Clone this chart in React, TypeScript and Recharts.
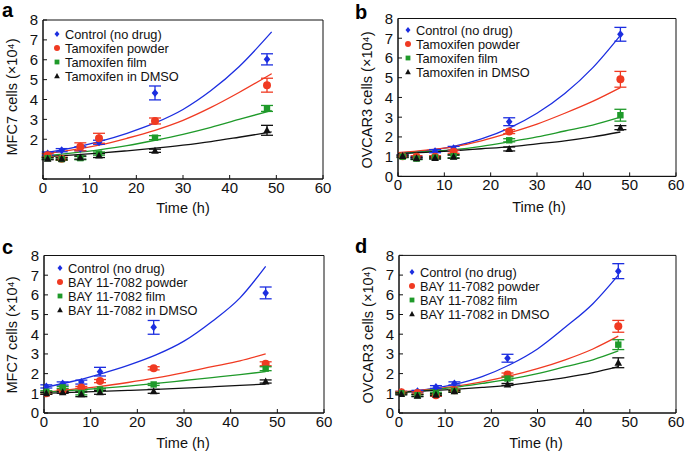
import React from 'react'
import { ComposedChart, Line, Scatter, ErrorBar, XAxis, YAxis, ReferenceArea } from 'recharts'

// order in every panel: control, powder, film, DMSO
const COLORS = ['#1c2ee0', '#f03a22', '#1f9a2a', '#111111']
const FONT = '"Liberation Sans", Arial, Helvetica, sans-serif'

const xTicks = [0, 10, 20, 30, 40, 50, 60]
const yTicks = [0, 1, 2, 3, 4, 5, 6, 7, 8]

const namesTam = ['Control (no drug)', 'Tamoxifen powder', 'Tamoxifen film', 'Tamoxifen in DMSO']
const namesBay = ['Control (no drug)', 'BAY 11-7082 powder', 'BAY 11-7082 film', 'BAY 11-7082 in DMSO']

// panel a - MFC7, tamoxifen
const aTimes = [1, 4, 8, 12, 24, 48]
const aMeans = [
  [1.28, 1.45, 1.52, 1.85, 4.33, 6.02],
  [1.2, 1.02, 1.62, 2.05, 2.92, 4.72],
  [1.05, 1.0, 1.05, 1.28, 2.08, 3.55],
  [1.02, 1.02, 1.08, 1.18, 1.42, 2.45],
]
const aErrs = [
  [0.08, 0.08, 0.1, 0.1, 0.35, 0.28],
  [0.08, 0.08, 0.2, 0.25, 0.15, 0.35],
  [0.05, 0.05, 0.08, 0.08, 0.1, 0.15],
  [0.05, 0.05, 0.08, 0.1, 0.08, 0.25],
]
const aFitTimes = [0, 6, 12, 18, 24, 30, 36, 42, 49]
const aFits = [
  [1.3, 1.55, 1.88, 2.3, 2.82, 3.5, 4.45, 5.65, 7.4],
  [1.25, 1.45, 1.7, 2.05, 2.45, 2.95, 3.6, 4.35, 5.3],
  [1.15, 1.3, 1.47, 1.68, 1.95, 2.25, 2.6, 3.0, 3.45],
  [1.12, 1.2, 1.3, 1.42, 1.55, 1.7, 1.88, 2.1, 2.37],
]

// panel b - OVCAR3, tamoxifen
const bTimes = [1, 4, 8, 12, 24, 48]
const bMeans = [
  [1.05, 0.95, 1.28, 1.42, 2.77, 7.2],
  [1.02, 1.0, 1.0, 1.25, 2.27, 4.92],
  [1.0, 0.9, 0.95, 1.02, 1.83, 3.1],
  [1.03, 0.92, 0.93, 1.0, 1.39, 2.47],
]
const bErrs = [
  [0.05, 0.05, 0.08, 0.1, 0.2, 0.35],
  [0.05, 0.05, 0.05, 0.08, 0.1, 0.4],
  [0.05, 0.05, 0.05, 0.08, 0.08, 0.3],
  [0.05, 0.05, 0.05, 0.08, 0.1, 0.1],
]
const bFitTimes = [0, 6, 12, 18, 24, 30, 36, 42, 48]
const bFits = [
  [1.15, 1.3, 1.52, 1.9, 2.45, 3.2, 4.2, 5.5, 7.15],
  [1.2, 1.33, 1.5, 1.8, 2.2, 2.65, 3.2, 3.8, 4.5],
  [1.15, 1.25, 1.35, 1.52, 1.75, 2.0, 2.3, 2.6, 3.0],
  [1.15, 1.22, 1.3, 1.4, 1.5, 1.65, 1.8, 2.0, 2.25],
]

// panel c - MFC7, BAY 11-7082
const cTimes = [0.5, 4, 8, 12, 23.5, 47.5]
const cMeans = [
  [1.35, 1.5, 1.57, 2.1, 4.35, 6.1],
  [1.0, 1.15, 1.3, 1.62, 2.27, 2.5],
  [1.08, 1.3, 1.02, 1.2, 1.45, 2.25],
  [1.0, 1.05, 0.95, 1.05, 1.1, 1.6],
]
const cErrs = [
  [0.08, 0.08, 0.1, 0.22, 0.35, 0.3],
  [0.05, 0.05, 0.05, 0.08, 0.08, 0.1],
  [0.05, 0.05, 0.1, 0.05, 0.05, 0.1],
  [0.05, 0.05, 0.12, 0.1, 0.1, 0.08],
]
const cFitTimes = [0, 6, 12, 18, 24, 30, 36, 42, 47.5]
const cFits = [
  [1.3, 1.6, 1.98, 2.42, 2.95, 3.65, 4.65, 5.85, 7.45],
  [1.05, 1.2, 1.35, 1.55, 1.78, 2.05, 2.35, 2.65, 3.0],
  [1.05, 1.15, 1.25, 1.37, 1.5, 1.65, 1.8, 1.95, 2.1],
  [1.0, 1.05, 1.1, 1.15, 1.2, 1.26, 1.33, 1.4, 1.47],
]

// panel d - OVCAR3, BAY 11-7082
const dTimes = [0.5, 4, 8, 12, 23.5, 47.5]
const dMeans = [
  [1.05, 1.1, 1.32, 1.5, 2.78, 7.2],
  [1.05, 1.02, 0.9, 1.15, 1.95, 4.4],
  [1.0, 0.9, 1.0, 1.12, 1.75, 3.47],
  [0.97, 0.88, 0.93, 1.1, 1.45, 2.55],
]
const dErrs = [
  [0.05, 0.05, 0.07, 0.08, 0.2, 0.38],
  [0.05, 0.05, 0.05, 0.05, 0.08, 0.3],
  [0.05, 0.05, 0.05, 0.05, 0.08, 0.25],
  [0.05, 0.05, 0.05, 0.05, 0.05, 0.25],
]
const dFitTimes = [0, 6, 12, 18, 24, 30, 36, 42, 47.5]
const dFits = [
  [1.05, 1.2, 1.45, 1.85, 2.45, 3.25, 4.35, 5.55, 7.0],
  [1.05, 1.18, 1.35, 1.58, 1.88, 2.25, 2.7, 3.25, 3.9],
  [1.05, 1.15, 1.3, 1.5, 1.72, 2.0, 2.35, 2.7, 3.15],
  [1.05, 1.12, 1.2, 1.3, 1.42, 1.6, 1.8, 2.05, 2.35],
]

// marker shapes drawn around the cx/cy the Scatter gives us
function marker(kind: number, cx: number, cy: number, fill: string, s = 1) {
  if (kind === 0) {
    const w = 3.3 * s, h = 4 * s
    return <path d={`M${cx},${cy - h}L${cx + w},${cy}L${cx},${cy + h}L${cx - w},${cy}Z`} fill={fill} />
  }
  if (kind === 1) return <circle cx={cx} cy={cy} r={4 * s} fill={fill} />
  if (kind === 2) return <rect x={cx - 3.2 * s} y={cy - 3.2 * s} width={6.4 * s} height={6.4 * s} fill={fill} />
  const r = 4 * s
  return <path d={`M${cx},${cy - r}L${cx + r * 0.95},${cy + r * 0.75}L${cx - r * 0.95},${cy + r * 0.75}Z`} fill={fill} />
}

type PanelProps = {
  left: number
  top: number
  width: number
  height: number
  marginTop: number
  marginRight: number
  yWidth: number
  xHeight: number
  times: number[]
  means: number[][]
  errs: number[][]
  fitTimes: number[]
  fits: number[][]
  names: string[]
  letter: string
  yLabel: string
  hideLow?: boolean
  letterPos: [number, number]
  yLabelPos: [number, number]
  xLabelPos: [number, number]
  legendPos: [number, number]
}

function Panel(p: PanelProps) {
  const tickStyle = { fontSize: 15, fill: '#111', fontFamily: FONT }
  return (
    <div style={{ position: 'absolute', left: p.left, top: p.top, width: p.width, height: p.height }}>
      <ComposedChart width={p.width} height={p.height}
        margin={{ top: p.marginTop, right: p.marginRight, left: 0, bottom: 0 }}>
        <XAxis dataKey="x" type="number" domain={[0, 60]} ticks={xTicks} height={p.xHeight} interval={0}
          tickSize={-4} tickMargin={7} stroke="#111" tick={tickStyle} allowDataOverflow />
        <YAxis type="number" domain={[0, 8]} ticks={yTicks} width={p.yWidth} interval={0}
          tickSize={-4} tickMargin={9} stroke="#111" tick={tickStyle} allowDataOverflow
          tickFormatter={(v: number) => (p.hideLow && v < 2 ? '' : String(v))} />
        <ReferenceArea x1={0} x2={60} y1={0} y2={8} fill="none" fillOpacity={0} stroke="#111" strokeWidth={1} />
        {p.fits.map((vals, i) => (
          <Line key={'fit' + i} data={p.fitTimes.map((t, j) => ({ x: t, y: vals[j] }))} dataKey="y"
            type="monotone" dot={false} stroke={COLORS[i]} strokeWidth={1.3} isAnimationActive={false} />
        ))}
        {p.means.map((vals, i) => (
          <Scatter key={'pts' + i} data={p.times.map((t, j) => ({ x: t, y: vals[j], e: p.errs[i][j] }))}
            dataKey="y" fill={COLORS[i]} isAnimationActive={false}
            shape={(sp: any) => marker(i, sp.cx, sp.cy, COLORS[i])}>
            <ErrorBar dataKey="e" direction="y" width={6} stroke={COLORS[i]} strokeWidth={1.3} />
          </Scatter>
        ))}
      </ComposedChart>

      <div style={{ position: 'absolute', left: p.letterPos[0], top: p.letterPos[1], fontFamily: FONT, fontWeight: 'bold', fontSize: 20, lineHeight: '20px' }}>{p.letter}</div>
      <div style={{ position: 'absolute', left: p.yLabelPos[0], top: p.yLabelPos[1], transform: 'translate(-50%, -50%) rotate(-90deg)', fontFamily: FONT, fontSize: 14.5, whiteSpace: 'nowrap', color: '#111' }}>{p.yLabel}</div>
      <div style={{ position: 'absolute', left: p.xLabelPos[0], top: p.xLabelPos[1], transform: 'translate(-50%, -50%)', fontFamily: FONT, fontSize: 14.5, whiteSpace: 'nowrap', color: '#111' }}>Time (h)</div>

      <div style={{ position: 'absolute', left: p.legendPos[0], top: p.legendPos[1], fontFamily: FONT, fontSize: 12.8, color: '#111' }}>
        {p.names.map((n, i) => (
          <div key={n} style={{ height: 14, display: 'flex', alignItems: 'center' }}>
            <svg width={10} height={10} style={{ marginRight: 3 }}>{marker(i, 5, 5, COLORS[i], 0.75)}</svg>
            <span>{n}</span>
          </div>
        ))}
      </div>
    </div>
  )
}

export default function App() {
  return (
    <div style={{ position: 'absolute', left: 0, top: 0, width: 685, height: 451, background: '#fff' }}>
      <Panel left={0} top={0} width={340} height={225} marginTop={20} marginRight={17} yWidth={43} xHeight={46}
        times={aTimes} means={aMeans} errs={aErrs} fitTimes={aFitTimes} fits={aFits} names={namesTam}
        letter="a" yLabel="MFC7 cells (×10⁴)" hideLow
        letterPos={[2, 0]} yLabelPos={[12, 97]} xLabelPos={[183, 208]} legendPos={[52, 27]} />
      <Panel left={340} top={0} width={345} height={225} marginTop={18.5} marginRight={9} yWidth={58} xHeight={48.6}
        times={bTimes} means={bMeans} errs={bErrs} fitTimes={bFitTimes} fits={bFits} names={namesTam}
        letter="b" yLabel="OVCAR3 cells (×10⁴)"
        letterPos={[15, 2]} yLabelPos={[27, 100]} xLabelPos={[199, 207]} legendPos={[63, 23]} />
      <Panel left={0} top={225} width={340} height={226} marginTop={30.5} marginRight={16} yWidth={44} xHeight={38}
        times={cTimes} means={cMeans} errs={cErrs} fitTimes={cFitTimes} fits={cFits} names={namesBay}
        letter="c" yLabel="MFC7 cells (×10⁴)"
        letterPos={[2, 12]} yLabelPos={[12, 110]} xLabelPos={[183, 218]} legendPos={[55, 36]} />
      <Panel left={340} top={225} width={345} height={226} marginTop={30.4} marginRight={9} yWidth={59} xHeight={38}
        times={dTimes} means={dMeans} errs={dErrs} fitTimes={dFitTimes} fits={dFits} names={namesBay}
        letter="d" yLabel="OVCAR3 cells (×10⁴)"
        letterPos={[15, 11]} yLabelPos={[28, 110]} xLabelPos={[196, 218]} legendPos={[67, 40]} />
    </div>
  )
}
